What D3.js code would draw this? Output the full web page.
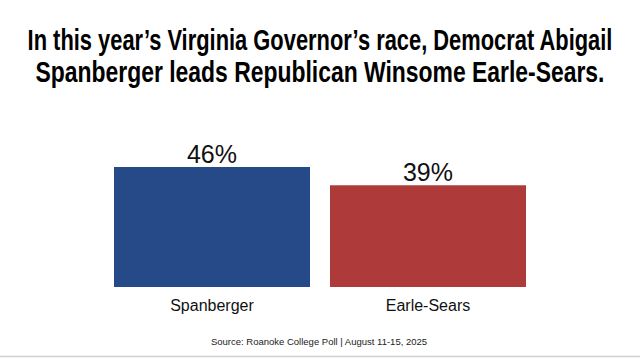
<!DOCTYPE html>
<html><head><meta charset="utf-8">
<script src="https://cdn.jsdelivr.net/npm/d3@7/dist/d3.min.js"></script>
<style>body{margin:0;background:#fff}svg{display:block}</style>
</head><body>
<script>
const titleLines = ["In this year’s Virginia Governor’s race, Democrat Abigail", "Spanberger leads Republican Winsome Earle-Sears."];
const categories = ["Spanberger", "Earle-Sears"];
const values = [46, 39];
const colors = ["#264A88", "#AE3A3A"];
const source = "Source: Roanoke College Poll | August 11-15, 2025";

const W = 640, H = 360;
const svg = d3.select("body").append("svg").attr("width", W).attr("height", H);

const titleWidths = [585, 569];
svg.selectAll("text.title").data(titleLines).join("text")
  .attr("class", "title")
  .attr("x", 0).attr("y", 0)
  .attr("text-anchor", "middle")
  .attr("font-family", "'Liberation Sans', Arial, sans-serif")
  .attr("font-weight", "bold")
  .attr("font-size", 30)
  .attr("fill", "#000")
  .text(d => d)
  .each(function(d, i) {
    const natural = this.getComputedTextLength();
    const sx = titleWidths[i] / natural;
    d3.select(this).attr("transform", `translate(320,${50 + i * 32}) scale(${sx},1)`);
  });

const x = d3.scaleBand().domain(categories).range([114, 526]).paddingInner(20 / 216).paddingOuter(0);
const y = d3.scaleLinear().domain([0, 46]).range([287, 167]);

svg.selectAll("rect.bar").data(values).join("rect")
  .attr("class", "bar")
  .attr("x", (d, i) => x(categories[i]))
  .attr("width", x.bandwidth())
  .attr("y", d => y(d))
  .attr("height", d => y(0) - y(d))
  .attr("fill", (d, i) => colors[i]);

svg.selectAll("text.val").data(values).join("text")
  .attr("class", "val")
  .attr("x", (d, i) => x(categories[i]) + x.bandwidth() / 2)
  .attr("y", d => y(d) - 4)
  .attr("text-anchor", "middle")
  .attr("font-family", "'Liberation Sans', Arial, sans-serif")
  .attr("font-size", 25)
  .attr("fill", "#111")
  .text(d => d + "%");

const axis = d3.axisBottom(x).tickSize(0).tickPadding(13);
const g = svg.append("g").attr("transform", `translate(0,${y(0)})`).call(axis);
g.select(".domain").remove();
g.selectAll("text").attr("font-family", "'Liberation Sans', Arial, sans-serif").attr("font-size", 16).attr("fill", "#111");

svg.append("text").attr("x", 319).attr("y", 345).attr("text-anchor", "middle")
  .attr("font-family", "'Liberation Sans', Arial, sans-serif").attr("font-size", 9.5).attr("fill", "#222")
  .text(source);

svg.append("line").attr("x1", 0).attr("x2", W).attr("y1", 356.5).attr("y2", 356.5)
  .attr("stroke", "#d0d0d0").attr("stroke-width", 1.5);
</script>
</body></html>
